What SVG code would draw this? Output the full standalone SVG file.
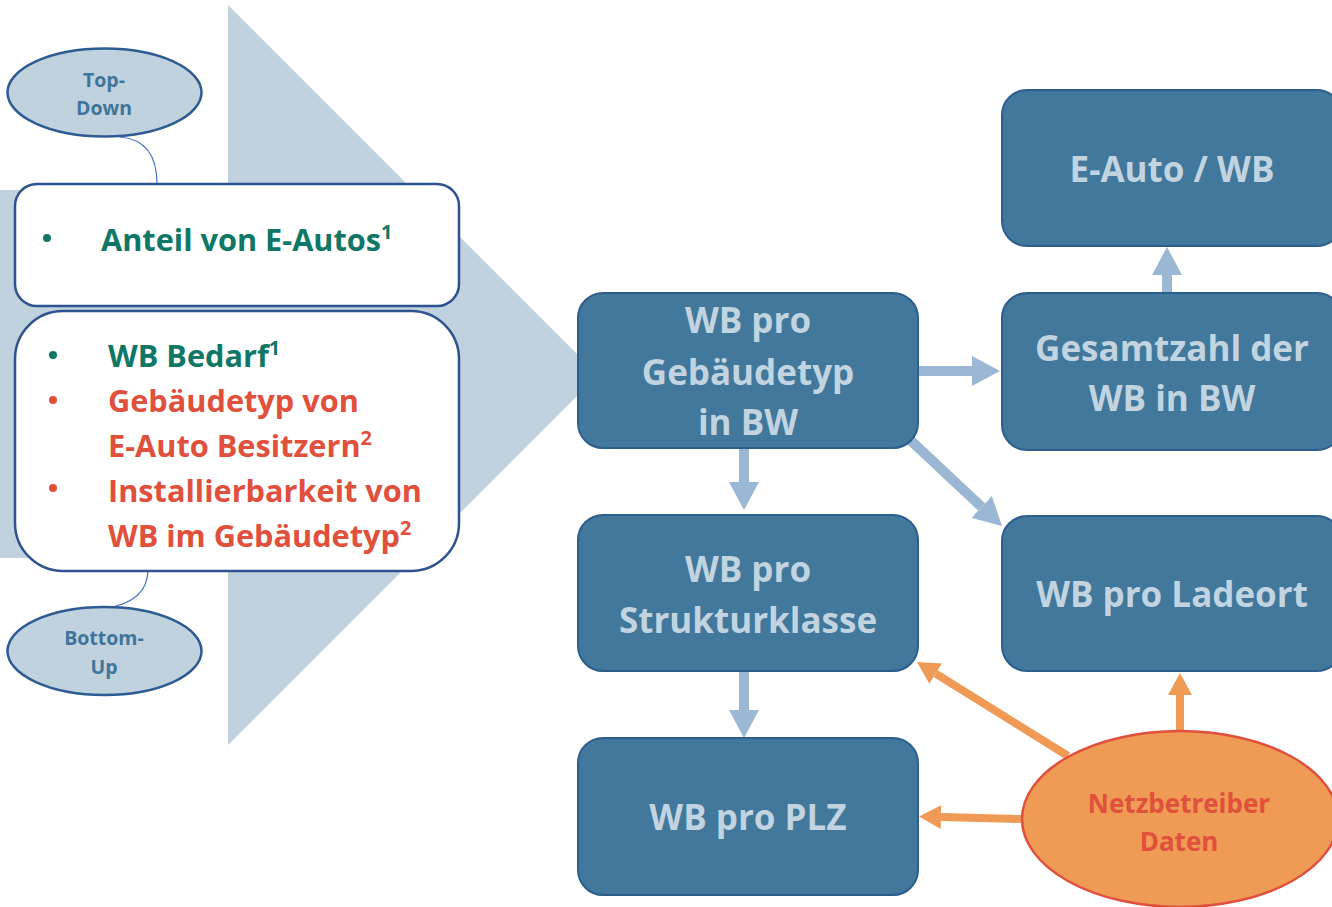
<svg xmlns="http://www.w3.org/2000/svg" width="1332" height="907" viewBox="0 0 1332 907">
<defs>
<style>
text{font-family:"Open Sans",Lato,"Liberation Sans",sans-serif;font-weight:700}
.ell{fill:#bfd2de;stroke:#2e5b92;stroke-width:2.5}
.elt{fill:#3f759a;font-size:19.5px;text-anchor:middle}
.lb{fill:#ffffff;stroke:#2f5290;stroke-width:2.5}
.li{font-size:30.7px}
.teal{fill:#0f7765}
.red{fill:#e0503c}
.sup{font-size:20px}
.bx{fill:#41789b;stroke:#2d5e8e;stroke-width:2}
.bt{fill:#c2d4e0;font-size:35px;text-anchor:middle}
.ba{stroke:#9ab8d4;stroke-width:10;fill:none}
.oa{stroke:#ef9a55;stroke-width:8;fill:none}
.thin{stroke:#4472c4;stroke-width:1.2;fill:none}
</style>
<marker id="bh" viewBox="0 0 28 30" refX="0" refY="15" markerWidth="28" markerHeight="30" markerUnits="userSpaceOnUse" orient="auto"><path d="M0,0 L28,15 L0,30 z" fill="#9ab8d4"/></marker>
<marker id="oh" viewBox="0 0 22 24" refX="0" refY="12" markerWidth="22" markerHeight="24" markerUnits="userSpaceOnUse" orient="auto"><path d="M0,0 L22,12 L0,24 z" fill="#ef9a55"/></marker>
</defs>
<rect width="1332" height="907" fill="#ffffff"/>
<polygon id="bigarrow" points="0,190 228,190 228,5 598,375 228,745 228,558 0,558" fill="#bfd2de"/>

<g id="connectors">
<path class="thin" d="M120,137 Q157,140 157,184"/>
<path class="thin" d="M148,569 Q148,602 106,608"/>
<line class="ba" x1="744" y1="448" x2="744" y2="482" marker-end="url(#bh)"/>
<line class="ba" x1="918" y1="371" x2="972" y2="371" marker-end="url(#bh)"/>
<line class="ba" x1="908" y1="438" x2="981.6" y2="506.9" marker-end="url(#bh)"/>
<line class="ba" x1="744" y1="671" x2="744" y2="710" marker-end="url(#bh)"/>
<line class="ba" x1="1167" y1="293" x2="1167" y2="275" marker-end="url(#bh)"/>
<line class="oa" x1="1068" y1="756" x2="935.7" y2="673.6" marker-end="url(#oh)"/>
<line class="oa" x1="1180" y1="731" x2="1180" y2="695" marker-end="url(#oh)"/>
<line class="oa" x1="1022" y1="819" x2="941" y2="817" marker-end="url(#oh)"/>
</g>

<g id="topdown">
<ellipse class="ell" cx="104.5" cy="92.5" rx="97" ry="44"/>
<text class="elt" x="104" y="87">Top-</text>
<text class="elt" x="104" y="115">Down</text>
</g>

<g id="bottomup">
<ellipse class="ell" cx="104.5" cy="651" rx="97" ry="44"/>
<text class="elt" x="104" y="645">Bottom-</text>
<text class="elt" x="104" y="674">Up</text>
</g>

<g id="topdown-box">
<rect class="lb" x="15" y="184" width="444" height="122" rx="22"/>
<circle class="teal" cx="47" cy="238" r="4"/>
<text class="li teal" x="101" y="251">Anteil von E-Autos<tspan class="sup" dy="-12">1</tspan></text>
</g>

<g id="bottomup-box">
<rect class="lb" x="15" y="311" width="444" height="260" rx="48"/>
<circle class="teal" cx="53" cy="355" r="4"/>
<circle class="red" cx="53" cy="400" r="4"/>
<circle class="red" cx="53" cy="488" r="4"/>
<text class="li teal" x="108" y="367">WB Bedarf<tspan class="sup" dy="-12">1</tspan></text>
<text class="li red" x="108" y="412">Gebäudetyp von</text>
<text class="li red" x="108" y="457">E-Auto Besitzern<tspan class="sup" dy="-12">2</tspan></text>
<text class="li red" x="108" y="502">Installierbarkeit von</text>
<text class="li red" x="108" y="547">WB im Gebäudetyp<tspan class="sup" dy="-12">2</tspan></text>
</g>

<g id="gebaeudetyp">
<rect class="bx" x="578" y="293" width="340" height="155" rx="25"/>
<text class="bt" x="748" y="333">WB pro</text>
<text class="bt" x="748" y="385">Gebäudetyp</text>
<text class="bt" x="748" y="435">in BW</text>
</g>

<g id="strukturklasse">
<rect class="bx" x="578" y="515" width="340" height="156" rx="25"/>
<text class="bt" x="748" y="582">WB pro</text>
<text class="bt" x="748" y="633">Strukturklasse</text>
</g>

<g id="plz">
<rect class="bx" x="578" y="738" width="340" height="157" rx="25"/>
<text class="bt" x="748" y="830">WB pro PLZ</text>
</g>

<g id="eauto-wb">
<rect class="bx" x="1002" y="90" width="340" height="156" rx="25"/>
<text class="bt" x="1172" y="182">E-Auto / WB</text>
</g>

<g id="gesamtzahl">
<rect class="bx" x="1002" y="293" width="340" height="157" rx="25"/>
<text class="bt" x="1172" y="361">Gesamtzahl der</text>
<text class="bt" x="1172" y="411">WB in BW</text>
</g>

<g id="ladeort">
<rect class="bx" x="1002" y="516" width="340" height="155" rx="25"/>
<text class="bt" x="1172" y="607">WB pro Ladeort</text>
</g>

<g id="netzbetreiber">
<ellipse cx="1180" cy="819" rx="158" ry="88" fill="#ef9a55" stroke="#e0503c" stroke-width="2.5"/>
<text x="1179" y="813" fill="#e0503c" font-size="26" text-anchor="middle">Netzbetreiber</text>
<text x="1179" y="851" fill="#e0503c" font-size="26" text-anchor="middle">Daten</text>
</g>
</svg>
